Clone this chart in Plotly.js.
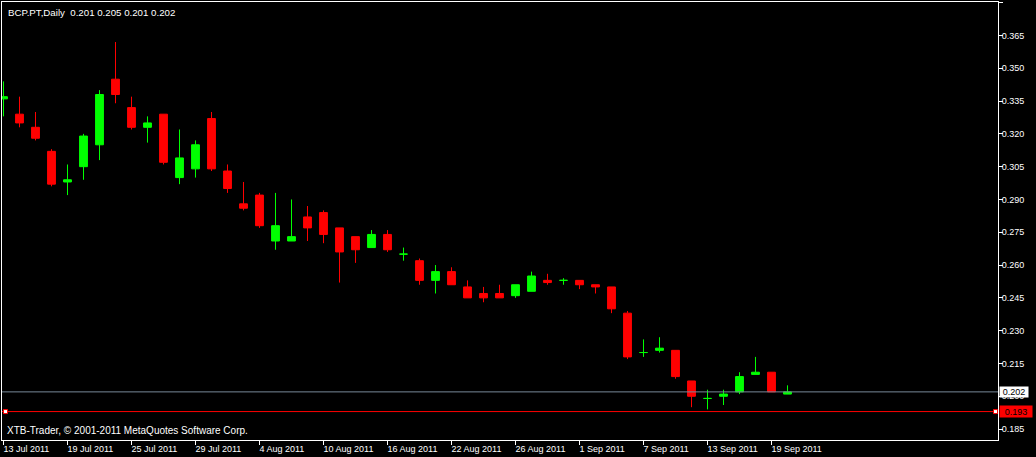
<!DOCTYPE html>
<html><head><meta charset="utf-8">
<script src="https://cdn.plot.ly/plotly-3.0.1.min.js"></script>
<style>html,body{margin:0;padding:0;background:#000;}#chart{width:1036px;height:457px;}</style>
</head><body><div id="chart"></div>
<script>
const dates = ['2011-07-13','2011-07-14','2011-07-15','2011-07-18','2011-07-19','2011-07-20','2011-07-21','2011-07-22','2011-07-25','2011-07-26','2011-07-27','2011-07-28','2011-07-29',
'2011-08-01','2011-08-02','2011-08-03','2011-08-04','2011-08-05','2011-08-08','2011-08-09','2011-08-10','2011-08-11','2011-08-12','2011-08-15','2011-08-16','2011-08-17','2011-08-18','2011-08-19','2011-08-22','2011-08-23','2011-08-24','2011-08-25','2011-08-26','2011-08-29','2011-08-30','2011-08-31',
'2011-09-01','2011-09-02','2011-09-05','2011-09-06','2011-09-07','2011-09-08','2011-09-09','2011-09-12','2011-09-13','2011-09-14','2011-09-15','2011-09-16','2011-09-19','2011-09-20'];
const openP  = [0.336,0.329,0.323,0.312,0.298,0.305,0.315,0.345,0.332,0.323,0.329,0.300,0.304,0.327,0.303,0.288,0.292,0.271,0.271,0.282,0.284,0.277,0.273,0.268,0.274,0.265,0.262,0.253,0.257,0.250,0.247,0.247,0.246,0.248,0.253,0.253,0.253,0.251,0.250,0.238,0.220,0.221,0.221,0.207,0.199,0.200,0.202,0.210,0.211,0.201];
const highP  = [0.344,0.337,0.330,0.313,0.306,0.320,0.340,0.362,0.337,0.328,0.329,0.322,0.317,0.330,0.306,0.298,0.293,0.293,0.290,0.287,0.285,0.277,0.273,0.276,0.276,0.268,0.263,0.260,0.259,0.253,0.250,0.251,0.251,0.257,0.256,0.254,0.253,0.251,0.250,0.239,0.226,0.227,0.221,0.207,0.203,0.203,0.211,0.218,0.211,0.205];
const lowP   = [0.328,0.323,0.317,0.296,0.292,0.299,0.308,0.334,0.322,0.316,0.306,0.297,0.300,0.303,0.293,0.285,0.277,0.267,0.271,0.271,0.270,0.252,0.261,0.268,0.266,0.262,0.251,0.247,0.251,0.245,0.243,0.245,0.245,0.248,0.251,0.251,0.249,0.247,0.238,0.217,0.218,0.220,0.208,0.195,0.194,0.196,0.201,0.210,0.202,0.201];
const closeP = [0.337,0.325,0.318,0.297,0.299,0.319,0.338,0.338,0.323,0.325,0.307,0.309,0.315,0.304,0.295,0.286,0.278,0.278,0.273,0.277,0.274,0.266,0.267,0.274,0.267,0.265,0.253,0.257,0.251,0.245,0.245,0.245,0.251,0.255,0.252,0.253,0.251,0.250,0.240,0.218,0.220,0.222,0.209,0.200,0.199,0.201,0.209,0.211,0.202,0.202];
const tickDates  = ['2011-07-13','2011-07-19','2011-07-25','2011-07-29','2011-08-04','2011-08-10','2011-08-16','2011-08-22','2011-08-26','2011-09-01','2011-09-07','2011-09-13','2011-09-19'];
const tickLabels = ['13 Jul 2011','19 Jul 2011','25 Jul 2011','29 Jul 2011','4 Aug 2011','10 Aug 2011','16 Aug 2011','22 Aug 2011','26 Aug 2011','1 Sep 2011','7 Sep 2011','13 Sep 2011','19 Sep 2011'];
const symbolName = 'BCP.PT,Daily';
const footerText = 'XTB-Trader, \u00a9 2001-2011 MetaQuotes Software Corp.';
const lastPrice = 0.202;
const markLevel = 0.193;

function pick(arr, idx){ return idx.map(i => arr[i]); }
const upIdx = [], dnIdx = [];
closeP.forEach((c, i) => (c >= openP[i] ? upIdx : dnIdx).push(i));

function candle(idx, color){
  return {
    type:'candlestick',
    x: pick(dates, idx), open: pick(openP, idx), high: pick(highP, idx), low: pick(lowP, idx), close: pick(closeP, idx),
    increasing:{line:{color:color, width:1}, fillcolor:color},
    decreasing:{line:{color:color, width:1}, fillcolor:color},
    whiskerwidth:0, hoverinfo:'skip', showlegend:false
  };
}
const traces = [candle(upIdx, '#00ff00'), candle(dnIdx, '#ff0000')];

const n = dates.length - 1;
const fmt = v => v.toFixed(3);
const titleText = symbolName + '\u00a0\u00a0' + [openP[n], highP[n], lowP[n], closeP[n]].map(fmt).join(' ');
const baseFont = {family:'Liberation Sans, Arial, sans-serif', size:9, color:'#ffffff'};

const layout = {
  width:1036, height:457,
  margin:{l:2, r:38, t:2, b:17, pad:0},
  paper_bgcolor:'#000000', plot_bgcolor:'#000000',
  showlegend:false, font:baseFont, boxgap:0.3, boxmode:'overlay',
  xaxis:{type:'category', categoryorder:'array', categoryarray:dates, range:[-0.094, 62.156],
    tickmode:'array', tickvals:tickDates, ticktext:tickLabels, ticks:'outside', ticklen:4, tickcolor:'#ffffff',
    ticklabelposition:'outside right', ticklabelshift:-1, showgrid:false, zeroline:false, showline:true, linecolor:'#ffffff', linewidth:1, mirror:true,
    rangeslider:{visible:false}, fixedrange:true, tickfont:baseFont},
  yaxis:{side:'right', range:[0.1800, 0.3803], tickmode:'linear', tick0:0.185, dtick:0.015, tickformat:'.3f',
    ticks:'outside', ticklen:4, tickcolor:'#ffffff', ticklabelstandoff:-3, showgrid:false, zeroline:false, showline:true, linecolor:'#ffffff', linewidth:1, mirror:true,
    fixedrange:true, tickfont:baseFont},
  shapes:[
    {type:'line', xref:'paper', x0:0, x1:1, yref:'y', y0:lastPrice, y1:lastPrice, line:{color:'#778899', width:1}},
    {type:'line', xref:'paper', x0:0, x1:1, yref:'y', y0:markLevel, y1:markLevel, line:{color:'#ff0000', width:1}},
    {type:'rect', xref:'paper', xsizemode:'pixel', xanchor:0, x0:1.5, x1:5.5, yref:'y', ysizemode:'pixel', yanchor:markLevel, y0:-2, y1:2, fillcolor:'#ffffff', line:{color:'#ff0000', width:1}},
    {type:'rect', xref:'paper', xsizemode:'pixel', xanchor:1, x0:-4.5, x1:-0.5, yref:'y', ysizemode:'pixel', yanchor:markLevel, y0:-2, y1:2, fillcolor:'#ffffff', line:{color:'#ff0000', width:1}}
  ],
  annotations:[
    {xref:'paper', yref:'paper', x:0, y:1, xanchor:'left', yanchor:'top', xshift:4, yshift:-3, showarrow:false, text:titleText, font:{family:baseFont.family, size:9.7, color:'#ffffff'}},
    {xref:'paper', yref:'paper', x:0, y:0, xanchor:'left', yanchor:'bottom', xshift:3, yshift:2, showarrow:false, text:footerText, font:{family:baseFont.family, size:10, color:'#ffffff'}},
    {xref:'paper', yref:'y', x:1, y:lastPrice, xanchor:'left', yanchor:'middle', xshift:1, showarrow:false, text:fmt(lastPrice), bgcolor:'#ffffff', borderpad:0, width:28, height:10, font:{family:baseFont.family, size:9, color:'#000000'}},
    {xref:'paper', yref:'y', x:1, y:markLevel, xanchor:'left', yanchor:'middle', xshift:1, showarrow:false, text:fmt(markLevel), bgcolor:'#ff0000', borderpad:0, width:32, height:11, font:{family:baseFont.family, size:9, color:'#000000'}}
  ]
};
Plotly.newPlot('chart', traces, layout, {staticPlot:true, displayModeBar:false});
</script></body></html>
